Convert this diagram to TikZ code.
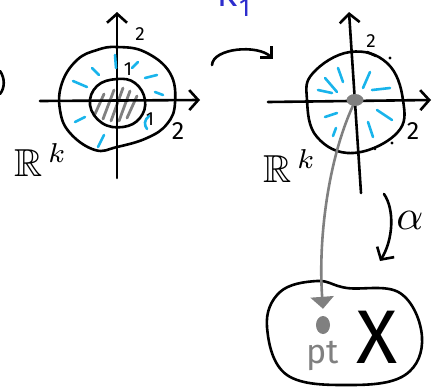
\documentclass[tikz,border=0pt]{standalone}
\usepackage{fontspec}
\usepackage{amssymb}
\usetikzlibrary{arrows.meta,shapes.geometric}
\newfontfamily\hand{Fira Sans}
\definecolor{skyb}{RGB}{25,180,235}
\definecolor{pengray}{RGB}{128,128,128}
\definecolor{penblue}{RGB}{45,45,205}
\begin{document}
\begin{tikzpicture}[x=1pt,y=-1pt,
  ink/.style={line width=2.6pt,line cap=round,line join=round},
  axisarrow/.style={ink,-{Straight Barb[length=9pt,width=20pt,line width=2.6pt]}},
  bluedash/.style={line width=2.6pt,line cap=round,draw=skyb},
  hatch/.style={line width=2.8pt,line cap=round,draw=pengray},
  lbl/.style={inner sep=0pt,font=\hand\fontsize{19}{19}\selectfont},
  rk/.style={inner sep=0pt}]
\useasboundingbox (0,0) rectangle (435,388);

% cut-off marks at the edges
\draw[ink] (0,71) .. controls (5,78) and (5,88) .. (0,94);
\node[inner sep=0pt,text=penblue,font=\hand\fontsize{34}{34}\selectfont,anchor=base west] (Klabel) at (217,6) {K\hspace{2pt}\raisebox{-0.3em}{\fontsize{26}{26}\selectfont 1}};

% ---------- left figure ----------
\draw[ink] plot[smooth cycle,tension=0.7] coordinates {(117,47) (145,52) (170,73) (175,103) (167,124) (147,138) (117,147) (95,150) (70,133) (60,110) (62,83) (77,60) (97,50)};
% hatching
\draw[hatch] (95,114) -- (104,94);
\draw[hatch] (103,119) -- (114,90);
\draw[hatch] (111,121) -- (123,88);
\draw[hatch] (119,121) -- (130,91);
\draw[hatch] (127,118) -- (137,96);
\draw[ink] plot[smooth cycle,tension=0.7] coordinates {(117,79) (135,83) (145,100) (140,118) (123,127) (102,123) (90,105) (97,86)};
\coordinate (lxs) at (40,101);
\coordinate (lxe) at (200,100);
\coordinate (lys) at (117,178);
\coordinate (lye) at (117,12);
\draw[axisarrow] (lxs) -- (lxe);
\draw[axisarrow] (lys) -- (lye);
% blue dashes
\draw[bluedash] (115,55) -- (116,68);
\draw[bluedash] (92,68) -- (99,75);
\draw[bluedash] (73,81) -- (87,87);
\draw[bluedash] (132,68) -- (138,62);
\draw[bluedash] (145,78) -- (157,75);
\draw[bluedash] (155,92) -- (163,95);
\draw[bluedash] (149,116) .. controls (144,120) and (144,125) .. (147,129);
\draw[bluedash] (75,122) -- (85,117);
\draw[bluedash] (98,147) -- (104,135);
% labels
\node[lbl] (l2a) at (140,34) {2};
\node[lbl] (l1a) at (128,69) {1};
\node[lbl] (l1b) at (150,119) {1};
\node[lbl,font=\hand\fontsize{25}{25}\selectfont] (l2b) at (178,131) {2};
\node[rk] (rkl) at (41,160) {\scalebox{3.9}{$\mathbb{R}^{\,k}$}};

% ---------- curved arrow ----------
\coordinate (ca1) at (212,65);
\coordinate (ca2) at (273,59);
\draw[ink,-{Straight Barb[length=8pt,width=16pt,line width=2.6pt]}] (ca1) .. controls (213,48) and (258,44) .. (ca2);

% ---------- right figure ----------
\draw[ink] plot[smooth cycle,tension=0.7] coordinates {(350,52) (387,63) (403,100) (397,133) (353,153) (317,137) (307,100) (313,73)};
\coordinate (rxs) at (268,102);
\coordinate (rxe) at (431,100);
\coordinate (rys) at (361,193);
\coordinate (rye) at (349,12);
\draw[axisarrow] (rxs) -- (rxe);
\draw[axisarrow] (rys) -- (rye);
\draw[ink] (367,52) -- (376,56);
\fill (390,58) circle (1.6pt);
\fill (392,143) circle (1.6pt);
\fill (375,149) circle (1.4pt);
% blue dashes
\draw[bluedash] (338,68) -- (343,82);
\draw[bluedash] (325,78) -- (337,92);
\draw[bluedash] (318,90) -- (332,93);
\draw[bluedash] (370,72) -- (363,88);
\draw[bluedash] (372,90) -- (390,88);
\draw[bluedash] (377,110) -- (392,120);
\draw[bluedash] (368,122) -- (373,137);
\draw[bluedash] (325,117) -- (337,113);
\draw[bluedash] (333,136) -- (336,128);
% gray dot
\node[ellipse,fill=pengray,minimum width=17pt,minimum height=12pt,inner sep=0pt] (dot) at (355,100) {};
\node[lbl] (r2a) at (371,41) {2};
\node[lbl,font=\hand\fontsize{25}{25}\selectfont] (r2b) at (413,131) {2};
\node[rk] (rkr) at (290,166) {\scalebox{3.9}{$\mathbb{R}^{\,k}$}};

% ---------- alpha arrow ----------
\coordinate (al1) at (384,194);
\coordinate (al2) at (380,261);
\draw[ink,-{Straight Barb[length=9pt,width=20pt,line width=2.6pt]}] (al1) .. controls (395,210) and (393,240) .. (al2);
\node[inner sep=0pt] (alpha) at (410,220) {\scalebox{4.2}{$\alpha$}};

% ---------- space X ----------
\draw[ink] plot[smooth cycle,tension=0.65] coordinates {(317,281) (347,288) (400,293) (422,337) (405,375) (350,385) (287,375) (267,327) (280,292)};
\node[ellipse,fill=pengray,minimum width=14pt,minimum height=18pt,inner sep=0pt] (pt) at (323,325) {};
\node[inner sep=0pt,text=pengray,font=\hand\fontsize{34}{34}\selectfont] (ptlabel) at (323,356) {pt};
\node[inner sep=0pt,font=\hand\fontsize{76}{76}\selectfont] (X) at (377,337) {X};

% ---------- gray arrow ----------
\draw[line width=2.6pt,draw=pengray,line cap=round,-{Triangle[length=12pt,width=23pt]},color=pengray]
  (dot.250) .. controls (328,160) and (318,240) .. ([yshift=7pt]pt.north);
\end{tikzpicture}
\end{document}
